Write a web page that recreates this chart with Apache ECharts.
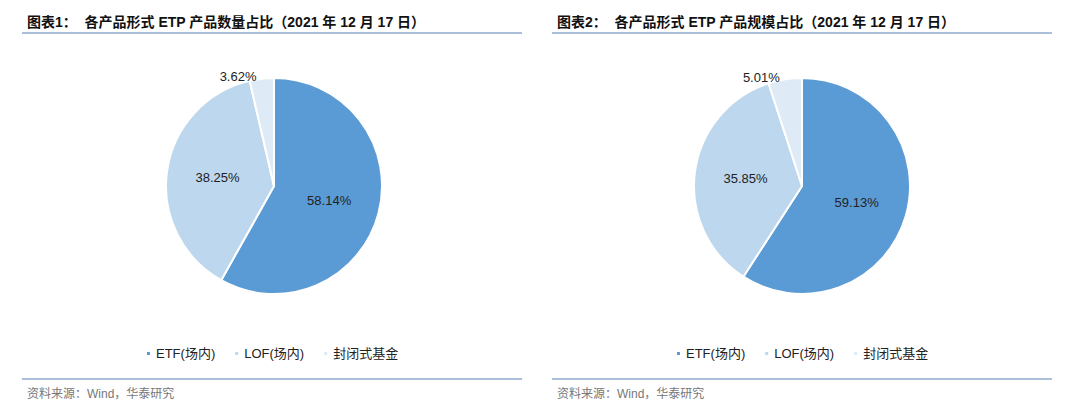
<!DOCTYPE html>
<html><head><meta charset="utf-8">
<script src="https://cdn.jsdelivr.net/npm/echarts@6/dist/echarts.min.js"></script>
<style>html,body{margin:0;background:#fff}#c{width:1080px;height:411px}</style>
</head><body><div id="c"></div>
<script>
var categories = ['ETF(场内)', 'LOF(场内)', '封闭式基金'];
var countShare = [58.14, 38.25, 3.62];
var scaleShare = [59.13, 35.85, 5.01];
var colors = ['#5b9bd5', '#bdd7ee', '#deebf7'];
var titles = ['图表1：  各产品形式 ETP 产品数量占比（2021 年 12 月 17 日）',
              '图表2：  各产品形式 ETP 产品规模占比（2021 年 12 月 17 日）'];
var source = '资料来源：Wind，华泰研究';

var font = '"Liberation Sans", "Noto Sans CJK SC", sans-serif';
function pieData(vals) {
  return vals.map(function (v, i) {
    var d = { name: categories[i], value: v, itemStyle: { color: colors[i] } };
    if (i === 2) d.label = { position: 'outside' };
    return d;
  });
}
function pie(vals, cx) {
  return {
    type: 'pie', center: [cx, 186], radius: [0, 108], startAngle: 90, clockwise: true,
    data: pieData(vals),
    itemStyle: { borderColor: '#fff', borderWidth: 2 },
    label: { show: true, position: 'inside', formatter: function (p) { return p.value.toFixed(2) + '%'; },
      color: '#222', fontSize: 13, fontFamily: font },
    labelLine: { show: false, length: 2, length2: 0 },
    emphasis: { disabled: true }
  };
}
function legend(x) {
  return { left: x, top: 342, data: categories, icon: 'rect', itemWidth: 5, itemHeight: 5, itemGap: 18,
    textStyle: { color: '#222', fontSize: 13, fontFamily: font } };
}
var chart = echarts.init(document.getElementById('c'), null, { renderer: 'svg' });
chart.setOption({
  animation: false,
  title: [
    { text: titles[0], left: 22, top: 10, textStyle: { fontSize: 14, fontWeight: 'bold', color: '#111', fontFamily: font } },
    { text: titles[1], left: 552, top: 10, textStyle: { fontSize: 14, fontWeight: 'bold', color: '#111', fontFamily: font } },
    { text: source, left: 22, top: 383, textStyle: { fontSize: 12, fontWeight: 'normal', color: '#777', fontFamily: font } },
    { text: source, left: 552, top: 383, textStyle: { fontSize: 12, fontWeight: 'normal', color: '#777', fontFamily: font } }
  ],
  graphic: [
    { type: 'line', shape: { x1: 22, y1: 33, x2: 522, y2: 33 }, style: { stroke: '#8eaacc', lineWidth: 1.5 } },
    { type: 'line', shape: { x1: 552, y1: 33, x2: 1052, y2: 33 }, style: { stroke: '#8eaacc', lineWidth: 1.5 } },
    { type: 'line', shape: { x1: 22, y1: 379, x2: 522, y2: 379 }, style: { stroke: '#8eaacc', lineWidth: 1.5 } },
    { type: 'line', shape: { x1: 552, y1: 379, x2: 1052, y2: 379 }, style: { stroke: '#8eaacc', lineWidth: 1.5 } }
  ],
  legend: [legend(140), legend(670)],
  series: [pie(countShare, 274), pie(scaleShare, 802)]
});
</script></body></html>
